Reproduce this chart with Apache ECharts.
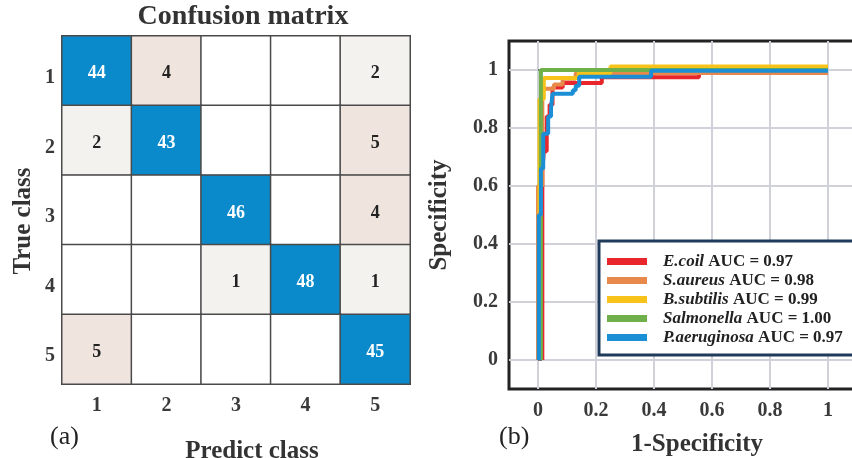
<!DOCTYPE html>
<html>
<head>
<meta charset="utf-8">
<script src="https://cdn.jsdelivr.net/npm/echarts@6/dist/echarts.min.js"></script>
<style>
html, body { margin: 0; padding: 0; background: #fff; }
#chart { width: 852px; height: 458px; }
</style>
</head>
<body>
<div id="chart"></div>
<script>
// confusion matrix (rows = true class, cols = predicted class)
const classLabels = ['1', '2', '3', '4', '5'];
const confusionRows = [
    [44, 4, 0, 0, 2],
    [2, 43, 0, 0, 5],
    [0, 0, 46, 0, 4],
    [0, 0, 1, 48, 1],
    [5, 0, 0, 0, 45],
];

// ROC curves, [1-specificity, specificity] corner points
const rocTicks = [0, 0.2, 0.4, 0.6, 0.8, 1];
const speciesNames = ['E.coil', 'S.aureus', 'B.subtilis', 'Salmonella', 'P.aeruginosa'];
const aucValues = ['0.97', '0.98', '0.99', '1.00', '0.97'];
const rocEcoli = [[0.015, 0], [0.015, 0.65], [0.02, 0.65], [0.02, 0.72], [0.03, 0.72], [0.03, 0.84],
    [0.04, 0.84], [0.04, 0.88], [0.05, 0.88], [0.05, 0.94], [0.085, 0.94], [0.085, 0.955],
    [0.22, 0.955], [0.22, 0.975], [0.555, 0.975], [0.555, 0.995], [1, 0.995]];
const rocSaureus = [[0, 0], [0, 0.6], [0.015, 0.6], [0.015, 0.935], [0.055, 0.935], [0.055, 0.95],
    [0.085, 0.95], [0.085, 0.97], [0.13, 0.97], [0.13, 0.99], [1, 0.99]];
const rocBsubtilis = [[0.005, 0], [0.005, 0.9], [0.02, 0.9], [0.02, 0.972], [0.14, 0.972], [0.14, 0.99],
    [0.25, 0.99], [0.25, 1.012], [1, 1.012]];
const rocSalmonella = [[0.01, 0], [0.01, 1.0], [1, 1.0]];
const rocPaeruginosa = [[0.003, 0], [0.003, 0.5], [0.01, 0.5], [0.01, 0.66], [0.018, 0.66], [0.018, 0.78],
    [0.035, 0.78], [0.035, 0.84], [0.045, 0.84], [0.045, 0.87], [0.05, 0.87], [0.05, 0.918],
    [0.12, 0.918], [0.12, 0.93], [0.13, 0.93], [0.13, 0.946], [0.142, 0.946], [0.142, 0.977],
    [0.39, 0.977], [0.39, 0.997], [1, 0.997]];
const rocCurves = [rocEcoli, rocSaureus, rocBsubtilis, rocSalmonella, rocPaeruginosa];
const lineColors = ['#e8262b', '#e8894c', '#f7c31a', '#6fb04b', '#1b8fd6'];

const serif = 'Liberation Serif';
const heatData = [];
confusionRows.forEach((row, r) => {
    row.forEach((v, c) => heatData.push([c, r, v]));
});

const chart = echarts.init(document.getElementById('chart'));

const option = {
    animation: false,
    title: [
        {
            text: 'Confusion matrix',
            left: 243,
            top: 3,
            padding: 0,
            textAlign: 'center',
            textStyle: { fontFamily: serif, fontSize: 28, fontWeight: 'bold', color: '#333' },
        },
        {
            text: '(a)',
            left: 50,
            top: 424,
            padding: 0,
            textStyle: { fontFamily: serif, fontSize: 26, fontWeight: 'normal', color: '#222' },
        },
        {
            text: '(b)',
            left: 499,
            top: 424,
            padding: 0,
            textStyle: { fontFamily: serif, fontSize: 26, fontWeight: 'normal', color: '#222' },
        },
    ],
    grid: [
        { left: 62, top: 36, width: 348, height: 348, outerBoundsMode: 'none' },
        {
            left: 509, top: 41, right: -5, bottom: 69,
            outerBoundsMode: 'none',
            show: true, borderColor: '#222', borderWidth: 3,
        },
    ],
    visualMap: {
        show: false,
        seriesIndex: 0,
        type: 'piecewise',
        pieces: [
            { value: 0, color: '#ffffff' },
            { min: 1, max: 2, color: '#f4f2ee' },
            { min: 3, max: 9, color: '#efe5de' },
            { min: 10, color: '#0a8acb' },
        ],
    },
    legend: {
        orient: 'vertical',
        left: 599,
        top: 241,
        padding: [12, 24, 9, 8],
        itemGap: 2,
        itemWidth: 40,
        itemHeight: 7,
        icon: 'rect',
        backgroundColor: '#fff',
        borderColor: '#1f3a5a',
        borderWidth: 3,
        data: speciesNames,
        formatter(name) {
            const i = speciesNames.indexOf(name);
            return `{i|${name}}{b| AUC = ${aucValues[i]}}`;
        },
        textStyle: {
            lineHeight: 17,
            rich: {
                i: { fontFamily: serif, fontSize: 17, fontStyle: 'italic', fontWeight: 'bold', color: '#222', padding: [0, 0, 0, 11] },
                b: { fontFamily: serif, fontSize: 17, fontWeight: 'bold', color: '#222' },
            },
        },
    },
    xAxis: [
        {
            gridIndex: 0,
            type: 'category',
            data: classLabels,
            name: 'Predict class',
            nameLocation: 'middle',
            nameGap: 55,
            nameTextStyle: { fontFamily: serif, fontSize: 25, fontWeight: 'bold', color: '#333', padding: [0, 0, 0, 32] },
            axisLine: { show: false },
            axisTick: { show: false },
            splitLine: { show: false },
            axisLabel: { fontFamily: serif, fontSize: 20, fontWeight: 'bold', color: '#3a3a3a', margin: 12 },
        },
        {
            gridIndex: 1,
            type: 'value',
            min: -0.1,
            max: 1.1,
            name: '1-Specificity',
            nameLocation: 'middle',
            nameGap: 43,
            nameTextStyle: { fontFamily: serif, fontSize: 25, fontWeight: 'bold', color: '#333', padding: [0, 0, 0, 28] },
            axisLine: { show: false },
            axisTick: { show: false, customValues: rocTicks },
            axisLabel: {
                customValues: rocTicks,
                fontFamily: serif, fontSize: 20, fontWeight: 'bold', color: '#3a3a3a', margin: 12,
                formatter: v => String(v),
            },
            splitLine: { show: true, lineStyle: { color: '#d0d1d9', width: 2 } },
        },
    ],
    yAxis: [
        {
            gridIndex: 0,
            type: 'category',
            data: classLabels,
            inverse: true,
            name: 'True class',
            nameLocation: 'middle',
            nameGap: 26,
            nameTextStyle: { fontFamily: serif, fontSize: 25, fontWeight: 'bold', color: '#333', padding: [0, 22, 0, 0] },
            axisLine: { show: false },
            axisTick: { show: false },
            splitLine: { show: false },
            axisLabel: {
                margin: 7,
                formatter: v => `{d|${v}}`,
                rich: { d: { fontFamily: serif, fontSize: 20, fontWeight: 'bold', color: '#3a3a3a', padding: [14, 0, 0, 0] } },
            },
        },
        {
            gridIndex: 1,
            type: 'value',
            min: -0.1,
            max: 1.1,
            name: 'Specificity',
            nameLocation: 'middle',
            nameGap: 57,
            nameTextStyle: { fontFamily: serif, fontSize: 25, fontWeight: 'bold', color: '#333' },
            axisLine: { show: false },
            axisTick: { show: true, inside: true, length: 4, customValues: rocTicks, lineStyle: { color: '#555', width: 1.5 } },
            axisLabel: {
                customValues: rocTicks,
                fontFamily: serif, fontSize: 20, fontWeight: 'bold', color: '#3a3a3a', margin: 11,
                formatter: v => String(v),
            },
            splitLine: { show: true, lineStyle: { color: '#d0d1d9', width: 2 } },
        },
    ],
    series: [
        {
            type: 'heatmap',
            xAxisIndex: 0,
            yAxisIndex: 0,
            data: heatData,
            itemStyle: { borderColor: '#4a4a4a', borderWidth: 1.5 },
            label: {
                show: true,
                formatter(p) {
                    const v = p.value[2];
                    if (!v) return '';
                    return v >= 10 ? `{w|${v}}` : `{k|${v}}`;
                },
                rich: {
                    w: { fontFamily: serif, fontSize: 18, fontWeight: 'bold', color: '#fff', padding: [6, 0, 0, 0] },
                    k: { fontFamily: serif, fontSize: 18, fontWeight: 'bold', color: '#222', padding: [6, 0, 0, 0] },
                },
            },
        },
        ...speciesNames.map((name, i) => ({
            name,
            type: 'line',
            xAxisIndex: 1,
            yAxisIndex: 1,
            data: rocCurves[i],
            showSymbol: false,
            color: lineColors[i],
            lineStyle: { width: 4, color: lineColors[i] },
        })),
    ],
};

chart.setOption(option);
</script>
</body>
</html>
